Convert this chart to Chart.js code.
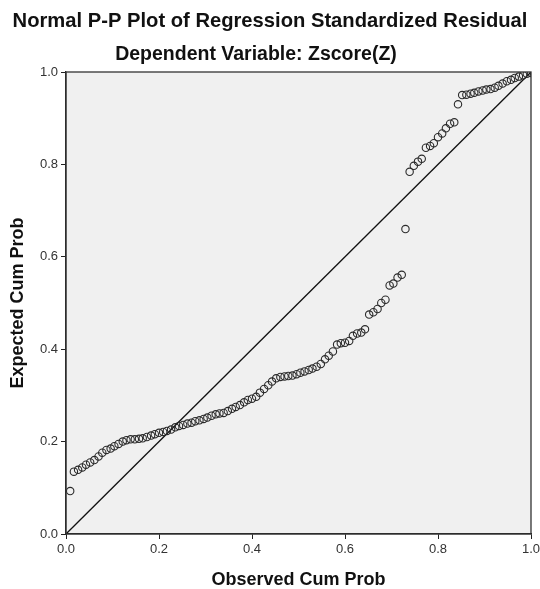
<!DOCTYPE html>
<html>
<head>
<meta charset="utf-8">
<title>Normal P-P Plot</title>
<script src="https://cdn.jsdelivr.net/npm/chart.js@4.4.1/dist/chart.umd.min.js"></script>
<style>
    html, body { margin: 0; padding: 0; background: #ffffff; }
    #wrap { width: 540px; height: 589px; }
</style>
</head>
<body>
<div id="wrap"><canvas id="ppChart" width="540" height="589"></canvas></div>
<script>
// Observed cumulative probability of each residual (x)
const observedCum = [
    0.009, 0.017, 0.026, 0.035, 0.043, 0.052, 0.061, 0.070, 0.078, 0.087,
    0.096, 0.104, 0.113, 0.122, 0.130, 0.139, 0.148, 0.157, 0.165, 0.174,
    0.183, 0.191, 0.200, 0.209, 0.217, 0.226, 0.235, 0.243, 0.252, 0.261,
    0.270, 0.278, 0.287, 0.296, 0.304, 0.313, 0.322, 0.330, 0.339, 0.348,
    0.357, 0.365, 0.374, 0.383, 0.391, 0.400, 0.409, 0.417, 0.426, 0.435,
    0.443, 0.452, 0.461, 0.470, 0.478, 0.487, 0.496, 0.504, 0.513, 0.522,
    0.530, 0.539, 0.548, 0.557, 0.565, 0.574, 0.583, 0.591, 0.600, 0.609,
    0.617, 0.626, 0.635, 0.643, 0.652, 0.661, 0.670, 0.678, 0.687, 0.696,
    0.704, 0.713, 0.722, 0.730, 0.739, 0.748, 0.757, 0.765, 0.774, 0.783,
    0.791, 0.800, 0.809, 0.817, 0.826, 0.835, 0.843, 0.852, 0.861, 0.870,
    0.878, 0.887, 0.896, 0.904, 0.913, 0.922, 0.930, 0.939, 0.948, 0.957,
    0.965, 0.974, 0.983, 0.991, 1.000
];

// Expected cumulative probability (y)
const expectedCum = [
    0.093, 0.135, 0.139, 0.144, 0.150, 0.155, 0.160, 0.168, 0.176, 0.182,
    0.185, 0.190, 0.195, 0.200, 0.203, 0.205, 0.205, 0.206, 0.207, 0.210,
    0.213, 0.216, 0.219, 0.221, 0.223, 0.226, 0.231, 0.234, 0.236, 0.239,
    0.241, 0.244, 0.246, 0.249, 0.252, 0.256, 0.259, 0.261, 0.262, 0.266,
    0.271, 0.275, 0.279, 0.285, 0.290, 0.293, 0.297, 0.306, 0.314, 0.322,
    0.330, 0.337, 0.340, 0.341, 0.342, 0.343, 0.346, 0.349, 0.352, 0.355,
    0.358, 0.362, 0.368, 0.378, 0.386, 0.395, 0.410, 0.413, 0.414, 0.418,
    0.429, 0.434, 0.436, 0.443, 0.475, 0.480, 0.487, 0.500, 0.507, 0.538,
    0.542, 0.555, 0.561, 0.660, 0.784, 0.797, 0.806, 0.812, 0.836, 0.840,
    0.846, 0.859, 0.867, 0.878, 0.888, 0.891, 0.930, 0.950, 0.951, 0.953,
    0.955, 0.958, 0.960, 0.962, 0.963, 0.966, 0.970, 0.975, 0.980, 0.983,
    0.987, 0.990, 0.993, 0.996, 0.998
];

// Reference diagonal
const diagonalX = [0, 1];
const diagonalY = [0, 1];

const axisTicks = [0, 0.2, 0.4, 0.6, 0.8, 1.0];

const mainTitle = 'Normal P-P Plot of Regression Standardized Residual';
const subTitle = 'Dependent Variable: Zscore(Z)';
const xTitle = 'Observed Cum Prob';
const yTitle = 'Expected Cum Prob';

const fontFamily = '"Liberation Sans", Arial, Helvetica, sans-serif';

const residualPoints = observedCum.map((x, i) => ({ x: x, y: expectedCum[i] }));
const diagonalPoints = diagonalX.map((x, i) => ({ x: x, y: diagonalY[i] }));

// grey plot area, frame and the two title lines
const spssFrame = {
    id: 'spssFrame',
    beforeDraw(chart) {
        const { ctx, chartArea: a } = chart;
        ctx.save();
        ctx.fillStyle = '#f0f0f0';
        ctx.fillRect(a.left, a.top, a.right - a.left, a.bottom - a.top);
        ctx.restore();
    },
    afterDraw(chart) {
        const { ctx, chartArea: a } = chart;
        ctx.save();
        ctx.strokeStyle = '#333333';
        ctx.lineWidth = 1.3;
        ctx.strokeRect(a.left, a.top, a.right - a.left, a.bottom - a.top);

        ctx.fillStyle = '#111111';
        ctx.textAlign = 'center';
        ctx.textBaseline = 'middle';
        ctx.font = 'bold 20.2px ' + fontFamily;
        ctx.fillText(mainTitle, 270, 21);
        ctx.font = 'bold 19.5px ' + fontFamily;
        ctx.fillText(subTitle, 256, 55);
        ctx.restore();
    }
};

function tickList(scale) {
    scale.ticks = axisTicks.map(v => ({ value: v }));
}

new Chart(document.getElementById('ppChart').getContext('2d'), {
    type: 'scatter',
    data: {
        datasets: [{
            label: 'Residuals',
            data: residualPoints,
            pointStyle: 'circle',
            pointRadius: 3.7,
            pointBorderWidth: 1.1,
            pointBackgroundColor: 'rgba(0,0,0,0)',
            pointBorderColor: '#2a2a2a',
            order: 1
        }, {
            type: 'line',
            label: 'Diagonal',
            data: diagonalPoints,
            borderColor: '#111111',
            borderWidth: 1.3,
            pointRadius: 0,
            fill: false,
            order: 2
        }]
    },
    options: {
        responsive: false,
        animation: false,
        events: [],
        layout: {
            padding: { top: 72, right: 0, bottom: 0, left: 0 }
        },
        plugins: {
            legend: { display: false },
            tooltip: { enabled: false },
            title: { display: false }
        },
        scales: {
            x: {
                type: 'linear',
                min: 0,
                max: 1,
                afterBuildTicks: tickList,
                afterFit(scale) {
                    scale.height = 55;
                    scale.paddingRight = 9;
                },
                grid: {
                    drawOnChartArea: false,
                    drawTicks: true,
                    tickLength: 5,
                    color: '#222222'
                },
                border: { display: true, color: '#222222', width: 1.3 },
                ticks: {
                    padding: 3,
                    color: '#333333',
                    font: { family: fontFamily, size: 13 },
                    callback: v => v.toFixed(1)
                },
                title: {
                    display: true,
                    text: xTitle,
                    color: '#111111',
                    padding: { top: 0, bottom: 0 },
                    font: { family: fontFamily, size: 18, weight: 'bold', lineHeight: 1 }
                }
            },
            y: {
                type: 'linear',
                min: 0,
                max: 1,
                afterBuildTicks: tickList,
                afterFit(scale) { scale.width = 66; },
                grid: {
                    drawOnChartArea: false,
                    drawTicks: true,
                    tickLength: 5,
                    color: '#222222'
                },
                border: { display: true, color: '#222222', width: 1.3 },
                ticks: {
                    padding: 3,
                    color: '#333333',
                    font: { family: fontFamily, size: 13 },
                    callback: v => v.toFixed(1)
                },
                title: {
                    display: true,
                    text: yTitle,
                    color: '#111111',
                    padding: { top: 9.5, bottom: 0 },
                    font: { family: fontFamily, size: 18, weight: 'bold', lineHeight: 1 }
                }
            }
        }
    },
    plugins: [spssFrame]
});
</script>
</body>
</html>
